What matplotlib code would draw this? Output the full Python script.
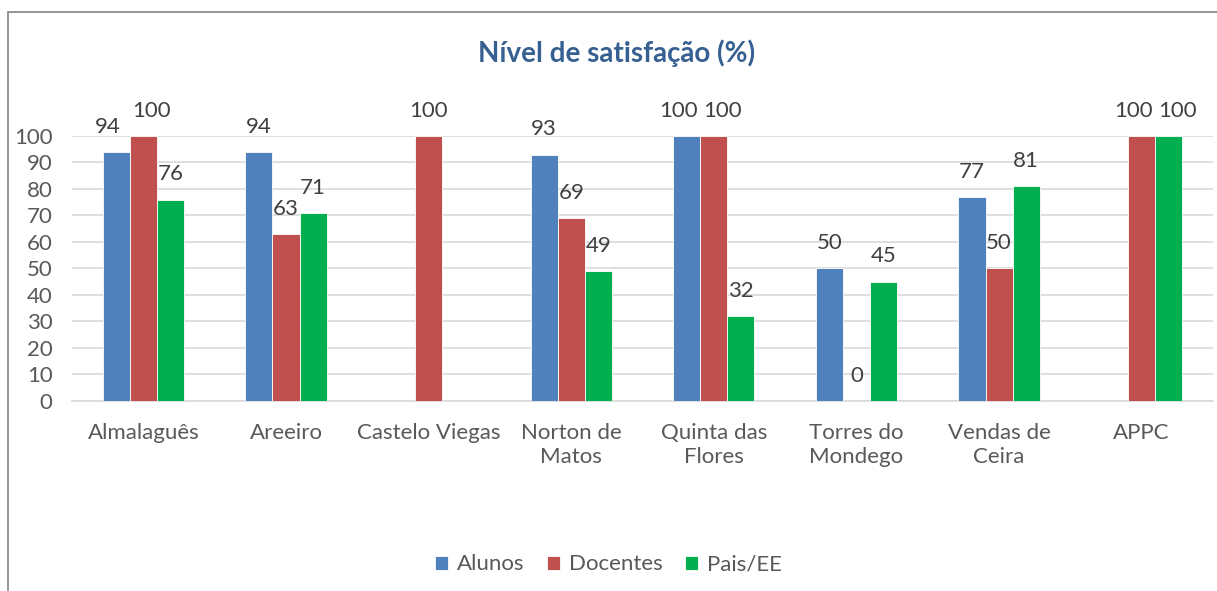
import matplotlib.pyplot as plt
import numpy as np
from matplotlib.patches import Rectangle

plt.rcParams['font.family'] = ['Lato', 'DejaVu Sans']

categorias = ['Almalaguês', 'Areeiro', 'Castelo Viegas', 'Norton de\nMatos',
              'Quinta das\nFlores', 'Torres do\nMondego', 'Vendas de\nCeira', 'APPC']
alunos = [94, 94, np.nan, 93, 100, 50, 77, np.nan]
docentes = [100, 63, 100, 69, 100, 0, 50, 100]
pais = [76, 71, np.nan, 49, 32, 45, 81, 100]
series = ['Alunos', 'Docentes', 'Pais/EE']
cores = ['#4F81BD', '#C0504D', '#00B050']

txt = '#595959'
fs = 16

fig = plt.figure(figsize=(12.17, 5.91), dpi=100)
ax = fig.add_axes([0.0592, 0.3215, 0.9375, 0.4484])

# moldura do gráfico (cortada à direita e em baixo)
fig.patches.append(Rectangle((8/1217, -0.1), 1.2, 1 - 12/591 + 0.1, transform=fig.transFigure,
                             fill=False, edgecolor='#8C8C8C', lw=1.3))

x = np.arange(len(categorias))
w = 0.19
dados = np.array([alunos, docentes, pais], dtype=float)

# deslocamento horizontal dos rótulos quando dois vizinhos ficam à mesma altura
shift = np.zeros_like(dados)
for c in range(dados.shape[1]):
    for i in range(2):
        a, b = dados[i, c], dados[i + 1, c]
        if not np.isnan(a) and not np.isnan(b) and abs(a - b) < 8:
            shift[i, c] -= 6
            shift[i + 1, c] += 6

for i, (nome, cor) in enumerate(zip(series, cores)):
    pos = x + (i - 1) * w
    vals = dados[i]
    ax.bar(pos, vals, w, color=cor, edgecolor='white', linewidth=0.6, label=nome, zorder=3)
    for c, (xp, v) in enumerate(zip(pos, vals)):
        if np.isnan(v):
            continue
        ax.annotate(f'{v:.0f}', (xp, v), xytext=(shift[i, c], 11), textcoords='offset points',
                    ha='center', va='bottom', fontsize=fs, color='#404040',
                    annotation_clip=False)

ax.set_xlim(-0.5, len(categorias) - 0.5)
ax.set_ylim(0, 100)
ax.set_yticks(range(0, 101, 10))
ax.set_xticks(x)
ax.set_xticklabels(categorias, linespacing=1.25)
ax.tick_params(axis='both', length=0, labelsize=fs, labelcolor=txt)
ax.tick_params(axis='x', pad=16)
ax.tick_params(axis='y', pad=14)
ax.grid(axis='y', color='#D9D9D9', lw=1.2, zorder=0)
for s in ['top', 'right', 'left']:
    ax.spines[s].set_visible(False)
ax.spines['bottom'].set_color('#D9D9D9')
ax.spines['bottom'].set_linewidth(1.2)

fig.text(0.507, 0.91, 'Nível de satisfação (%)', ha='center', va='center',
         fontsize=20, fontweight='bold', color='#376092')

fig.legend(loc='center', bbox_to_anchor=(0.5, 0.045), ncol=3, frameon=False,
           fontsize=fs, labelcolor=txt, handlelength=0.6, handleheight=0.6,
           handletextpad=0.4, columnspacing=1.0)

fig.savefig('out.png', dpi=100)
